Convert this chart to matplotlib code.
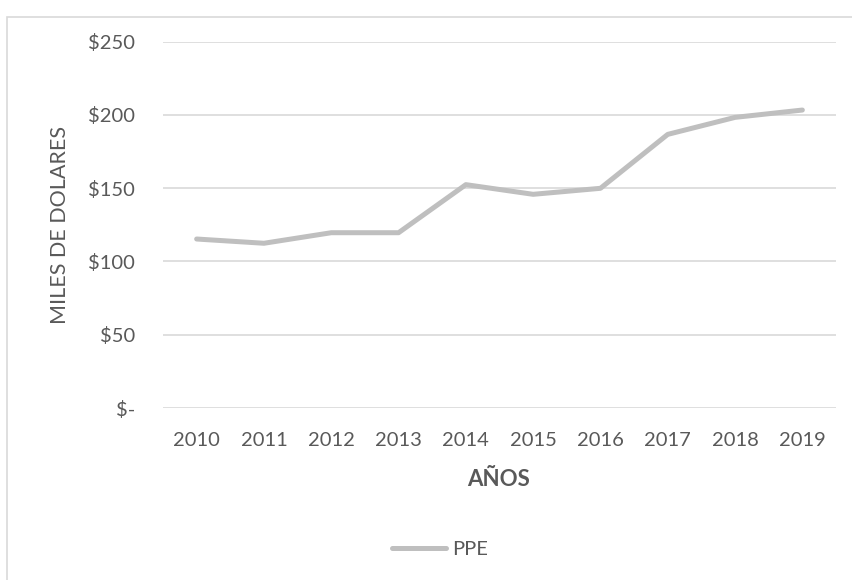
import matplotlib.pyplot as plt
from matplotlib.patches import Rectangle

# PPE por año (miles de dólares)
years = ['2010', '2011', '2012', '2013', '2014', '2015', '2016', '2017', '2018', '2019']
ppe = [115.3, 112.4, 119.6, 119.6, 152.4, 145.8, 149.9, 186.7, 198.3, 203.3]
y_ticks = [0, 50, 100, 150, 200, 250]
y_labels = ['$-', '$50', '$100', '$150', '$200', '$250']

text_color = '#595959'
plt.rcParams['font.family'] = ['Lato', 'DejaVu Sans']

W, H = 852, 580
fig = plt.figure(figsize=(W / 100, H / 100), dpi=100)
ax = fig.add_axes([163 / W, 1 - 408 / H, (836 - 163) / W, (408 - 41.6) / H])

x = range(len(years))
ax.plot(x, ppe, color='#BFBFBF', lw=3.6, solid_capstyle='round',
        solid_joinstyle='round', label='PPE', zorder=3)

ax.set_xlim(-0.5, len(years) - 0.5)
ax.set_ylim(0, 250)
ax.set_xticks(list(x))
ax.set_xticklabels(years)
ax.set_yticks(y_ticks)
ax.set_yticklabels(y_labels)
ax.tick_params(axis='both', length=0, labelsize=14.5, labelcolor=text_color)
ax.tick_params(axis='y', pad=20)
ax.tick_params(axis='x', pad=17)
ax.grid(axis='y', color='#D9D9D9', lw=1.2)
ax.set_axisbelow(True)
for s in ax.spines.values():
    s.set_visible(False)

# axis titles
fig.text(60 / W, 1 - 225 / H, 'MILES DE DOLARES', rotation=90, ha='center',
         va='center', fontsize=15.5, color=text_color)
fig.text(499 / W, 1 - 480 / H, 'AÑOS', ha='center', va='center',
         fontsize=16, fontweight='bold', color=text_color)

# legend at the bottom
fig.legend(loc='center', bbox_to_anchor=(440 / W, 1 - 549 / H), frameon=False,
           fontsize=14.5, labelcolor=text_color, handlelength=2.7,
           handletextpad=0.3)

# chart area border
fig.add_artist(Rectangle((6.5 / W, -0.1), 1.2, 1.1 - 17.5 / H,
                         transform=fig.transFigure, fill=False,
                         edgecolor='#D9D9D9', lw=1.2))

fig.savefig('out.png', dpi=100)
